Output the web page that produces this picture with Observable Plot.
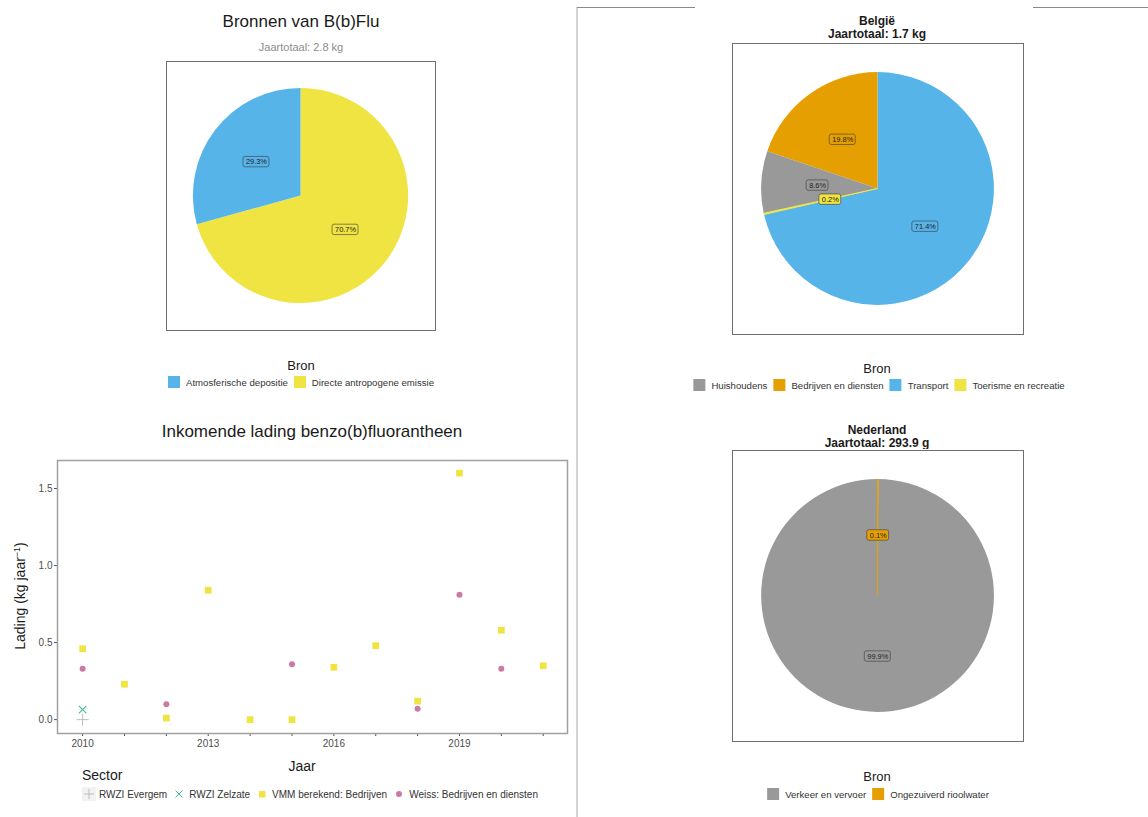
<!DOCTYPE html>
<html><head><meta charset="utf-8">
<script src="https://cdn.jsdelivr.net/npm/d3@7"></script>
<script src="https://cdn.jsdelivr.net/npm/@observablehq/plot@0.6"></script>
<style>
body{margin:0;background:#fff;font-family:"Liberation Sans",Arial,Helvetica,sans-serif;color:#1a1a1a;}
#root{position:relative;width:1148px;height:817px;overflow:hidden;}
.abs{position:absolute;}
.ctr{position:absolute;transform:translate(-50%,-50%);white-space:nowrap;}
.leg{position:absolute;transform:translate(-50%,-50%);display:flex;align-items:center;white-space:nowrap;font-size:9.6px;color:#333;}
.sw{display:inline-block;width:12px;height:12px;margin-right:6px;}
.item{display:flex;align-items:center;margin-right:6px;}
.item:last-child{margin-right:0;}
</style></head><body><div id="root"></div><script>
// ---------- Data ----------
// Bronnen van B(b)Flu (jaartotaal 2.8 kg)
const bronnenLabels = ["Atmosferische depositie", "Directe antropogene emissie"];
const bronnenPct = [29.3, 70.7];
const bronnenColors = ["#56B4E9", "#F0E442"];
const bronnenOrder = ["Directe antropogene emissie", "Atmosferische depositie"];

// België (jaartotaal 1.7 kg)
const belgieLabels = ["Huishoudens", "Bedrijven en diensten", "Transport", "Toerisme en recreatie"];
const belgiePct = [8.6, 19.8, 71.4, 0.2];
const belgieColors = ["#999999", "#E69F00", "#56B4E9", "#F0E442"];
const belgieOrder = ["Transport", "Toerisme en recreatie", "Huishoudens", "Bedrijven en diensten"];

// Nederland (jaartotaal 293.9 g)
const nederlandLabels = ["Verkeer en vervoer", "Ongezuiverd rioolwater"];
const nederlandPct = [99.9, 0.1];
const nederlandColors = ["#999999", "#E69F00"];
const nederlandOrder = ["Ongezuiverd rioolwater", "Verkeer en vervoer"];

// Inkomende lading benzo(b)fluorantheen (kg/jaar)
const sectors = ["RWZI Evergem", "RWZI Zelzate", "VMM berekend: Bedrijven", "Weiss: Bedrijven en diensten"];
const sectorColors = ["#bdbdbd", "#3fbf8f", "#F0E442", "#CC79A7"];
const sectorSymbols = ["plus", "times", "square", "circle"];
const evergemYears = [2010];
const evergemLoad = [0.0];
const zelzateYears = [2010];
const zelzateLoad = [0.065];
const vmmYears = [2010, 2011, 2012, 2013, 2014, 2015, 2016, 2017, 2018, 2019, 2020, 2021];
const vmmLoad = [0.46, 0.23, 0.01, 0.84, 0.00, 0.00, 0.34, 0.48, 0.12, 1.60, 0.58, 0.35];
const weissYears = [2010, 2012, 2015, 2018, 2019, 2020];
const weissLoad = [0.33, 0.10, 0.36, 0.07, 0.81, 0.33];
const xTicks = [2010, 2011, 2012, 2013, 2014, 2015, 2016, 2017, 2018, 2019, 2020, 2021];
const yTicks = [0, 0.5, 1.0, 1.5];

// ---------- Helpers ----------
const root = document.getElementById("root");
const FONT = "Liberation Sans, Arial, Helvetica, sans-serif";
function place(el, left, top) { el.style.position = "absolute"; el.style.left = left + "px"; el.style.top = top + "px"; root.appendChild(el); return el; }
function text(str, x, y, style) {
  const d = document.createElement("div"); d.className = "ctr"; d.textContent = str;
  d.style.left = x + "px"; d.style.top = y + "px"; Object.assign(d.style, style || {});
  root.appendChild(d); return d;
}
function line(x, y, w, h, color) {
  const d = document.createElement("div"); d.className = "abs";
  Object.assign(d.style, {left: x + "px", top: y + "px", width: w + "px", height: h + "px", background: color});
  root.appendChild(d);
}
function swatchLegend(labels, colors, x, y) {
  const d = document.createElement("div"); d.className = "leg";
  d.style.left = x + "px"; d.style.top = y + "px";
  labels.forEach((l, i) => {
    const it = document.createElement("span"); it.className = "item";
    const s = document.createElement("span"); s.className = "sw"; s.style.background = colors[i];
    it.appendChild(s); it.appendChild(document.createTextNode(l)); d.appendChild(it);
  });
  root.appendChild(d);
}
function charW(c) { return c === "." ? 0.278 : c === "%" ? 0.889 : 0.556; }

function pieChart(labels, pct, colors, order, size) {
  const colorOf = new Map(labels.map((l, i) => [l, colors[i]]));
  const valOf = new Map(labels.map((l, i) => [l, pct[i]]));
  const data = order.map(l => ({label: l, pct: valOf.get(l), color: colorOf.get(l)}));
  const arcs = d3.pie().sort(null).value(d => d.pct)(data);
  const drawArcs = arcs.slice().sort((a, b) => b.data.pct - a.data.pct); // thin slices drawn last
  const R = 0.8, unit = size / 2, fs = 7.4;
  const labelData = arcs.map(a => {
    const m = (a.startAngle + a.endAngle) / 2, r = R * (a.data.pct < 1 && a.data.pct > 0.15 ? 0.42 : 0.52);
    const t = a.data.pct.toFixed(1) + "%";
    const w = ([...t].reduce((s, c) => s + charW(c), 0) * fs + 5) / 2 / unit;
    return {color: a.data.color, text: t, x: r * Math.sin(m), y: r * Math.cos(m), hw: w, hh: 5.2 / unit};
  });
  return Plot.plot({
    width: size + 2, height: size + 2, margin: 1,
    style: {fontFamily: FONT, background: "white"},
    x: {domain: [-1, 1], axis: null}, y: {domain: [-1, 1], axis: null},
    color: {type: "identity"},
    marks: [
      (index, scales) => {
        const cx = scales.x(0), cy = scales.y(0), r = scales.x(R) - scales.x(0);
        const g = d3.create("svg:g").attr("transform", `translate(${cx},${cy})`);
        const arc = d3.arc().innerRadius(0).outerRadius(r);
        g.selectAll("path").data(drawArcs).join("path").attr("d", arc)
          .attr("fill", d => d.data.color)
          .attr("stroke", d => d.data.pct < 1 ? d.data.color : "none")
          .attr("stroke-width", 0.8);
        return g.node();
      },
      Plot.rect(labelData, {x1: d => d.x - d.hw, x2: d => d.x + d.hw, y1: d => d.y - d.hh, y2: d => d.y + d.hh,
        fill: d => d.color, stroke: "#3a3a3a", strokeWidth: 0.6, rx: 2}),
      Plot.text(labelData, {x: "x", y: "y", text: "text", fontSize: fs, fill: "#222"}),
      Plot.frame({stroke: "#6e6e6e", strokeWidth: 1})
    ]
  });
}

// ---------- Page decorations ----------
line(576, 7, 2, 810, "#d4d4d4");
line(577, 7, 118, 1, "#8a8a8a");
line(1033, 7, 115, 1, "#8a8a8a");

// ---------- Top-left pie ----------
text("Bronnen van B(b)Flu", 301, 22, {fontSize: "17px", color: "#1a1a1a"});
text("Jaartotaal: 2.8 kg", 301, 47, {fontSize: "11px", color: "#8c8c8c"});
place(pieChart(bronnenLabels, bronnenPct, bronnenColors, bronnenOrder, 269), 165, 60);
text("Bron", 301, 365, {fontSize: "13px", color: "#1a1a1a"});
swatchLegend(bronnenLabels, bronnenColors, 301, 382);

// ---------- Top-right pie ----------
text("België", 877, 21, {fontSize: "12px", fontWeight: "bold"});
text("Jaartotaal: 1.7 kg", 877, 34, {fontSize: "12px", fontWeight: "bold"});
place(pieChart(belgieLabels, belgiePct, belgieColors, belgieOrder, 291), 731, 42);
text("Bron", 877, 368, {fontSize: "13px", color: "#1a1a1a"});
swatchLegend(belgieLabels, belgieColors, 879, 385);

// ---------- Bottom-right pie ----------
text("Nederland", 877, 430, {fontSize: "12px", fontWeight: "bold"});
text("Jaartotaal: 293.9 g", 877, 443, {fontSize: "12px", fontWeight: "bold"});
place(pieChart(nederlandLabels, nederlandPct, nederlandColors, nederlandOrder, 291), 731, 449);
text("Bron", 877, 776, {fontSize: "13px", color: "#1a1a1a"});
swatchLegend(nederlandLabels, nederlandColors, 878, 794);

// ---------- Scatter ----------
text("Inkomende lading benzo(b)fluorantheen", 312, 432, {fontSize: "17px", color: "#1a1a1a"});
const rows = (years, loads, sector) => years.map((y, i) => ({jaar: y, lading: loads[i], sector}));
const sData = [
  rows(evergemYears, evergemLoad, sectors[0]),
  rows(zelzateYears, zelzateLoad, sectors[1]),
  rows(vmmYears, vmmLoad, sectors[2]),
  rows(weissYears, weissLoad, sectors[3])
];
const scatter = Plot.plot({
  width: 575, height: 310,
  marginLeft: 57, marginRight: 8, marginTop: 10, marginBottom: 27,
  style: {fontFamily: FONT, fontSize: "10px", color: "#4d4d4d", background: "white"},
  x: {domain: [2009.4, 2021.58], ticks: xTicks, tickFormat: d => d % 3 === 0 ? String(d) : "", tickSize: 3, tickPadding: 3, label: null},
  y: {domain: [-0.09, 1.682], ticks: yTicks, tickFormat: d => d.toFixed(1), tickSize: 3, tickPadding: 2, label: null},
  marks: [
    Plot.frame({stroke: "#a0a0a0", strokeWidth: 1.5}),
    Plot.dot(sData[0], {x: "jaar", y: "lading", symbol: () => sectorSymbols[0], r: 4, stroke: sectorColors[0], strokeWidth: 1}),
    Plot.dot(sData[1], {x: "jaar", y: "lading", symbol: () => sectorSymbols[1], r: 3.5, stroke: sectorColors[1], strokeWidth: 1.1}),
    Plot.dot(sData[2], {x: "jaar", y: "lading", symbol: () => sectorSymbols[2], r: 3.8, fill: sectorColors[2], stroke: "none"}),
    Plot.dot(sData[3], {x: "jaar", y: "lading", symbol: () => sectorSymbols[3], r: 3, fill: sectorColors[3], stroke: "none"})
  ]
});
place(scatter, 0, 450);
const yl = text("", 20, 596, {fontSize: "14px", color: "#1a1a1a", transform: "translate(-50%,-50%) rotate(-90deg)"});
yl.innerHTML = "Lading (kg jaar<sup style=\"font-size:9px\">−1</sup>)";
text("Jaar", 302, 766, {fontSize: "14px", color: "#1a1a1a"});
const sec = document.createElement("div"); sec.textContent = "Sector";
Object.assign(sec.style, {fontSize: "14px", color: "#1a1a1a"}); place(sec, 82, 767);

// scatter legend with symbols
const sl = document.createElement("div");
Object.assign(sl.style, {display: "flex", alignItems: "center", fontSize: "10px", color: "#333", whiteSpace: "nowrap"});
const symSvg = {
  plus: c => `<line x1="7" y1="2" x2="7" y2="12" stroke="${c}"/><line x1="2" y1="7" x2="12" y2="7" stroke="${c}"/>`,
  times: c => `<line x1="3.5" y1="3.5" x2="10.5" y2="10.5" stroke="${c}"/><line x1="3.5" y1="10.5" x2="10.5" y2="3.5" stroke="${c}"/>`,
  square: c => `<rect x="4" y="4" width="6.5" height="6.5" fill="${c}"/>`,
  circle: c => `<circle cx="7" cy="7" r="3" fill="${c}"/>`
};
sectors.forEach((s, i) => {
  const it = document.createElement("span");
  Object.assign(it.style, {display: "flex", alignItems: "center", marginRight: "5px"});
  it.innerHTML = `<svg width="14" height="14" style="margin-right:3px;background:${i === 0 ? "#f2f2f2" : "transparent"}">${symSvg[sectorSymbols[i]](sectorColors[i])}</svg>`;
  it.appendChild(document.createTextNode(s));
  sl.appendChild(it);
});
place(sl, 82, 787);
</script></body></html>
